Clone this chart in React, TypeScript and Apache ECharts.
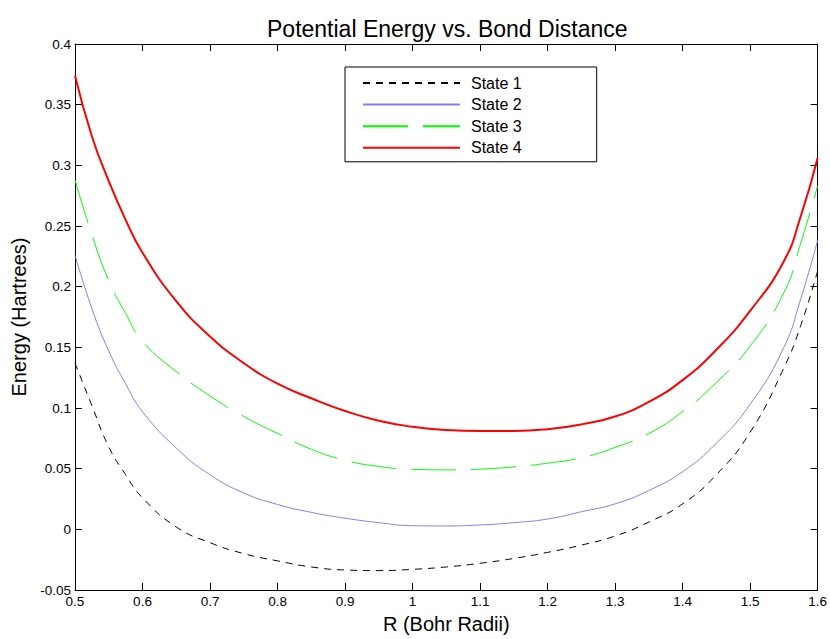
import React, { useEffect, useRef } from "react";
import * as echarts from "echarts";

const titleText = "Potential Energy vs. Bond Distance";
const xAxisName = "R (Bohr Radii)";
const yAxisName = "Energy (Hartrees)";
const seriesNames = ["State 1", "State 2", "State 3", "State 4"];

const rValues = [0.5, 0.525, 0.55, 0.575, 0.6, 0.65, 0.7, 0.75, 0.8, 0.85, 0.9, 0.95, 1.0, 1.05, 1.1, 1.15, 1.2, 1.25, 1.3, 1.35, 1.4, 1.45, 1.5, 1.55, 1.575, 1.6];
const state1 = [0.137, 0.102, 0.068, 0.045, 0.026, 0.002, -0.011, -0.02, -0.026, -0.031, -0.0335, -0.034, -0.033, -0.031, -0.028, -0.024, -0.019, -0.013, -0.0055, 0.006, 0.021, 0.045, 0.08, 0.133, 0.168, 0.213];
const state2 = [0.226, 0.182, 0.147, 0.12, 0.097, 0.067, 0.045, 0.03, 0.0205, 0.014, 0.0092, 0.0055, 0.003, 0.0028, 0.0036, 0.0055, 0.0085, 0.0145, 0.021, 0.032, 0.0475, 0.071, 0.103, 0.15, 0.19, 0.238];
const state3 = [0.288, 0.243, 0.205, 0.178, 0.155, 0.13, 0.11, 0.093, 0.079, 0.066, 0.057, 0.0518, 0.0495, 0.049, 0.0496, 0.0515, 0.0545, 0.059, 0.0675, 0.079, 0.097, 0.121, 0.151, 0.195, 0.236, 0.283];
const state4 = [0.374, 0.324, 0.287, 0.255, 0.228, 0.188, 0.159, 0.137, 0.12, 0.108, 0.0975, 0.0895, 0.0845, 0.0818, 0.081, 0.081, 0.0825, 0.0865, 0.093, 0.105, 0.123, 0.148, 0.18, 0.221, 0.258, 0.306];

const xMin = 0.5, xMax = 1.6, xStep = 0.1;
const yMin = -0.05, yMax = 0.4, yStep = 0.05;

const FONT = "'Liberation Sans', Arial, sans-serif";

function pairs(ys: number[]) {
  return rValues.map((r, i) => [r, ys[i]]);
}

export default function App() {
  const ref = useRef<HTMLDivElement>(null);
  useEffect(() => {
    if (!ref.current) return;
    const chart = echarts.init(ref.current, null, { renderer: "svg" });
    const axisCommon = {
      axisLine: { show: true, onZero: false, lineStyle: { color: "#000", width: 1 } },
      axisTick: { show: true, inside: true, length: 7, lineStyle: { color: "#000", width: 1 } },
      splitLine: { show: false },
    };
    const labelStyle = { color: "#000", fontSize: 13.5, fontFamily: FONT };
    chart.setOption({
      animation: false,
      backgroundColor: "#fff",
      title: {
        text: titleText,
        left: 262,
        top: 12,
        textStyle: { fontFamily: FONT, fontSize: 23, fontWeight: "normal", color: "#000" },
      },
      grid: { left: 75, right: 11, top: 44, bottom: 47, containLabel: false },
      legend: {
        orient: "vertical",
        left: 345,
        top: 67,
        padding: [8, 75, 6, 17],
        itemWidth: 97,
        itemHeight: 14,
        itemGap: 5.6,
        borderColor: "#000",
        borderWidth: 1,
        backgroundColor: "#fff",
        itemStyle: { opacity: 0 },
        textStyle: { fontFamily: FONT, fontSize: 16, color: "#000", padding: [0, 0, 0, 6] },
        data: seriesNames,
      },
      xAxis: [
        {
          type: "value",
          min: xMin,
          max: xMax,
          interval: xStep,
          position: "bottom",
          name: xAxisName,
          nameLocation: "middle",
          nameGap: 24,
          nameTextStyle: { fontFamily: FONT, fontSize: 20, color: "#000" },
          axisLabel: { ...labelStyle, margin: 4 },
          ...axisCommon,
        },
        {
          type: "value",
          min: xMin,
          max: xMax,
          interval: xStep,
          position: "top",
          axisLabel: { show: false },
          ...axisCommon,
        },
      ],
      yAxis: [
        {
          type: "value",
          min: yMin,
          max: yMax,
          interval: yStep,
          position: "left",
          name: yAxisName,
          nameLocation: "middle",
          nameGap: 40,
          nameTextStyle: { fontFamily: FONT, fontSize: 20, color: "#000" },
          axisLabel: { ...labelStyle, margin: 4 },
          ...axisCommon,
        },
        {
          type: "value",
          min: yMin,
          max: yMax,
          interval: yStep,
          position: "right",
          axisLabel: { show: false },
          ...axisCommon,
        },
      ],
      series: [
        {
          name: seriesNames[0],
          type: "line",
          data: pairs(state1),
          smooth: true,
          symbol: "none",
          color: "#000000",
          lineStyle: { color: "#000000", width: 1, type: [7, 6] },
        },
        {
          name: seriesNames[1],
          type: "line",
          data: pairs(state2),
          smooth: true,
          symbol: "none",
          color: "#8080ff",
          lineStyle: { color: "#8080ff", width: 1, type: "solid" },
        },
        {
          name: seriesNames[2],
          type: "line",
          data: pairs(state3),
          smooth: true,
          symbol: "none",
          color: "#00ff00",
          lineStyle: { color: "#00ff00", width: 1, type: [45, 15] },
        },
        {
          name: seriesNames[3],
          type: "line",
          data: pairs(state4),
          smooth: true,
          symbol: "none",
          color: "#ff0000",
          lineStyle: { color: "#ff0000", width: 2, type: "solid" },
        },
      ],
    });
    return () => chart.dispose();
  }, []);
  return (
    <div
      ref={ref}
      style={{ position: "fixed", left: 0, top: 0, width: 830, height: 639, background: "#fff" }}
    />
  );
}
